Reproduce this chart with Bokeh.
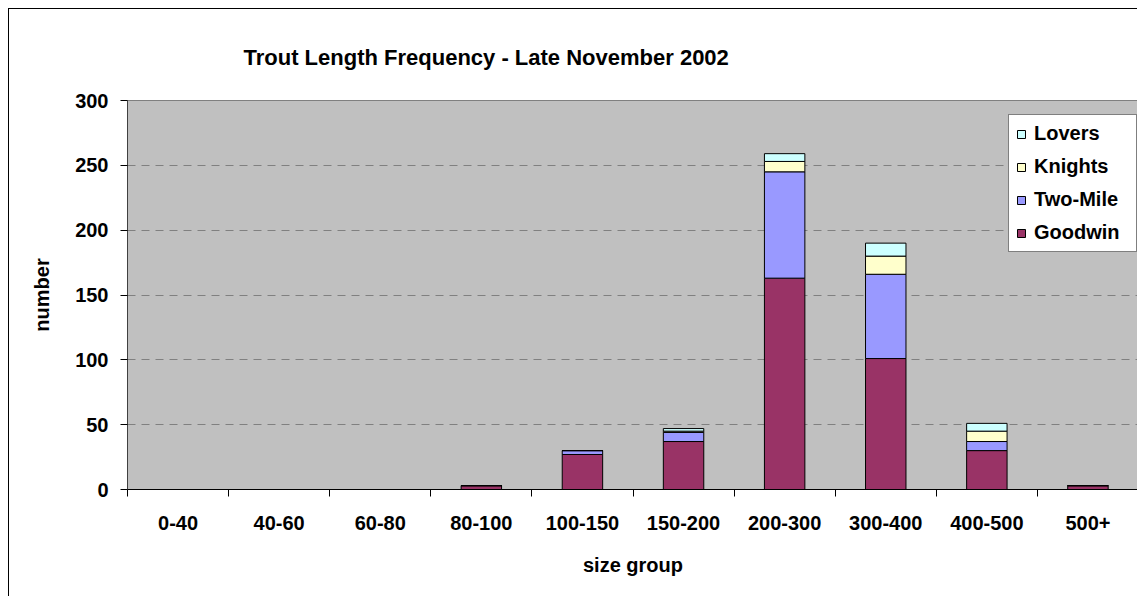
from bokeh.plotting import figure
from bokeh.models import (Range1d, FixedTicker, Legend, LegendItem, ColumnDataSource)
from bokeh.embed import file_html
from bokeh.resources import INLINE

title_text = "Trout Length Frequency - Late November 2002"
categories = ["0-40", "40-60", "60-80", "80-100", "100-150", "150-200",
              "200-300", "300-400", "400-500", "500+"]
goodwin = [0, 0, 0, 3, 27, 37, 163, 101, 30, 3]
two_mile = [0, 0, 0, 0, 3, 7, 82, 65, 7, 0]
knights = [0, 0, 0, 0, 0, 1, 8, 14, 8, 0]
lovers = [0, 0, 0, 0, 0, 2, 6, 10, 6, 0]
series = ["Goodwin", "Two-Mile", "Knights", "Lovers"]
colors = ["#993366", "#9999FF", "#FFFFCC", "#CCFFFF"]
y_ticks = [0, 50, 100, 150, 200, 250, 300]

FONT = "Liberation Sans"

centers = [i + 0.5 for i in range(len(categories))]
bounds = list(range(len(categories) + 1))

src = ColumnDataSource(dict(x=centers, Goodwin=goodwin, **{"Two-Mile": two_mile},
                            Knights=knights, Lovers=lovers))

p = figure(width=1129, height=588, output_backend="svg", toolbar_location=None,
           x_range=Range1d(0, len(categories)), y_range=Range1d(0, 300),
           min_border_left=118, min_border_right=0, min_border_top=91,
           min_border_bottom=108)

p.title.text = title_text
p.title.text_font = FONT
p.title.text_font_size = "22px"
p.title.text_font_style = "bold"
p.title.text_color = "black"
p.title.align = "left"
p.title.offset = 116
p.title.standoff = 62

p.background_fill_color = "#C0C0C0"
p.border_fill_color = "white"
p.outline_line_color = "#808080"
p.outline_line_width = 1
p.styles = {"margin-left": "8px", "margin-top": "8px",
            "border-left": "1px solid black", "border-top": "1px solid black"}

rs = p.vbar_stack(series, x="x", width=0.4, source=src, color=colors,
                  line_color="black", line_width=1)

p.xgrid.visible = False
p.ygrid.grid_line_color = "#808080"
p.ygrid.grid_line_dash = "8 6"
p.ygrid.ticker = FixedTicker(ticks=y_ticks)

# x axis
xa = p.xaxis[0]
xa.ticker = FixedTicker(ticks=centers, minor_ticks=bounds)
xa.major_label_overrides = {c: lab for c, lab in zip(centers, categories)}
xa.major_tick_line_color = None
xa.major_tick_out = 0
xa.major_tick_in = 0
xa.minor_tick_line_color = "black"
xa.minor_tick_out = 7
xa.minor_tick_in = 0
xa.axis_line_color = "black"
xa.major_label_text_font = FONT
xa.major_label_text_font_size = "20px"
xa.major_label_text_font_style = "bold"
xa.major_label_text_color = "black"
xa.major_label_standoff = 19
xa.axis_label = "size group"
xa.axis_label_text_font = FONT
xa.axis_label_text_font_size = "20px"
xa.axis_label_text_font_style = "bold"
xa.axis_label_text_color = "black"
xa.axis_label_standoff = 21

# y axis
ya = p.yaxis[0]
ya.ticker = FixedTicker(ticks=y_ticks)
ya.minor_tick_line_color = None
ya.major_tick_out = 7
ya.major_tick_in = 0
ya.axis_line_color = "#404040"
ya.major_tick_line_color = "black"
ya.major_label_text_font = FONT
ya.major_label_text_font_size = "20px"
ya.major_label_text_font_style = "bold"
ya.major_label_text_color = "black"
ya.major_label_standoff = 12
ya.axis_label = "number"
ya.axis_label_text_font = FONT
ya.axis_label_text_font_size = "20px"
ya.axis_label_text_font_style = "bold"
ya.axis_label_text_color = "black"
ya.axis_label_standoff = 19

items = [LegendItem(label=s, renderers=[r]) for s, r in zip(series, rs)][::-1]
legend = Legend(items=items, location=(881, 237))
legend.border_line_color = "black"
legend.border_line_width = 1
legend.background_fill_color = "white"
legend.background_fill_alpha = 1
legend.label_text_font = FONT
legend.label_text_font_size = "20px"
legend.label_text_font_style = "bold"
legend.label_text_color = "black"
legend.glyph_width = 10
legend.glyph_height = 10
legend.label_standoff = 8
legend.label_width = 95
legend.spacing = 10
legend.padding = 7
legend.margin = 0
p.add_layout(legend)

open("out.html", "w").write(file_html(p, INLINE))
